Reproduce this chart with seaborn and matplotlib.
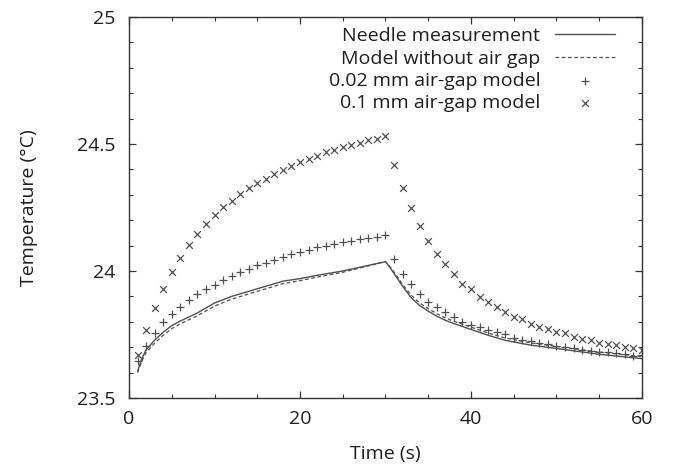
import numpy as np
import seaborn as sns
import matplotlib
matplotlib.use("Agg")
import matplotlib.pyplot as plt
from matplotlib.ticker import MultipleLocator, FuncFormatter

# line samples (s, degC)
t_line = [1.0, 1.5, 2, 3, 4, 5, 6, 8, 10, 12, 15, 18, 20, 22, 25, 28, 30,
          30.5, 31, 32, 33, 34, 35, 36, 37, 38, 40, 42, 44, 47, 50, 55, 60]
needle = [23.605, 23.655, 23.690, 23.728, 23.759, 23.785, 23.803, 23.835,
          23.874, 23.900, 23.930, 23.960, 23.970, 23.983, 24.000, 24.022,
          24.037, 24.015, 23.990, 23.940, 23.895, 23.864, 23.842, 23.822,
          23.806, 23.793, 23.770, 23.747, 23.727, 23.708, 23.695, 23.672,
          23.655]
no_gap = [23.600, 23.645, 23.680, 23.716, 23.747, 23.773, 23.792, 23.824,
          23.862, 23.889, 23.920, 23.950, 23.962, 23.976, 23.995, 24.020,
          24.037, 24.018, 23.996, 23.948, 23.905, 23.874, 23.852, 23.832,
          23.815, 23.802, 23.779, 23.756, 23.736, 23.717, 23.703, 23.681,
          23.663]

# model points, one per second
t_pts = list(range(1, 61))
gap_002 = [23.644, 23.705, 23.757, 23.798, 23.831, 23.860, 23.885, 23.908,
           23.928, 23.946, 23.964, 23.980, 23.995, 24.008, 24.022, 24.033,
           24.045, 24.055, 24.065, 24.075, 24.084, 24.093, 24.100, 24.106,
           24.114, 24.119, 24.125, 24.130, 24.135, 24.141,
           24.046, 23.988, 23.949, 23.909, 23.879, 23.857, 23.837, 23.818,
           23.798, 23.787, 23.778, 23.768, 23.759, 23.751, 23.735, 23.728,
           23.726, 23.715, 23.711, 23.706, 23.702, 23.698, 23.689, 23.686,
           23.682, 23.680, 23.676, 23.672, 23.667, 23.668]
gap_01 = [23.668, 23.769, 23.855, 23.929, 23.995, 24.051, 24.101, 24.146,
          24.185, 24.219, 24.251, 24.277, 24.303, 24.327, 24.346, 24.363,
          24.381, 24.398, 24.412, 24.428, 24.441, 24.454, 24.467, 24.478,
          24.488, 24.497, 24.505, 24.514, 24.521, 24.531,
          24.419, 24.328, 24.248, 24.178, 24.119, 24.067, 24.027, 23.987,
          23.949, 23.928, 23.899, 23.878, 23.858, 23.839, 23.820, 23.810,
          23.791, 23.781, 23.770, 23.760, 23.755, 23.741, 23.732, 23.730,
          23.718, 23.711, 23.709, 23.700, 23.698, 23.690]

sns.set_theme(style="ticks")
plt.rcParams["font.family"] = ["Open Sans", "DejaVu Sans"]

fig = plt.figure(figsize=(6.73, 4.70), dpi=100)
ax = fig.add_axes([0.1917, 0.1532, 0.7622, 0.8106])

grey = "#505050"
txt = "#1e1e1e"
fs = 14

sns.lineplot(x=t_line, y=needle, ax=ax, color=grey, lw=1.0,
             label="Needle measurement")
sns.lineplot(x=t_line, y=no_gap, ax=ax, color=grey, lw=0.9,
             linestyle=(0, (3, 2)), label="Model without air gap")
sns.scatterplot(x=t_pts, y=gap_002, ax=ax, marker="+", s=32, color=grey,
                linewidth=0.9, label="0.02 mm air-gap model")
sns.scatterplot(x=t_pts, y=gap_01, ax=ax, marker="x", s=24, color=grey,
                linewidth=0.9, label="0.1 mm air-gap model")

ax.set_xlim(0, 60)
ax.set_ylim(23.5, 25)
ax.xaxis.set_major_locator(MultipleLocator(20))
ax.xaxis.set_minor_locator(MultipleLocator(5))
ax.yaxis.set_major_locator(MultipleLocator(0.5))
ax.yaxis.set_minor_locator(MultipleLocator(0.1))
ax.yaxis.set_major_formatter(FuncFormatter(lambda v, p: f"{v:g}"))

ax.tick_params(which="both", direction="in", top=True, right=True,
               color="#333333", labelsize=fs, labelcolor=txt)
ax.tick_params(axis="y", pad=10)
ax.tick_params(axis="x", pad=9)
ax.tick_params(which="major", length=5, width=0.9)
ax.tick_params(which="minor", length=3, width=0.8)
for sp in ax.spines.values():
    sp.set_color("#333333")
    sp.set_linewidth(1.0)

ax.set_xlabel("Time (s)", fontsize=fs, color=txt, labelpad=12)
ax.set_ylabel("Temperature (°C)", fontsize=fs, color=txt, labelpad=28)

leg = ax.legend(loc="upper right", markerfirst=False, frameon=False,
                fontsize=fs, handlelength=3.1, labelspacing=0.22,
                borderaxespad=0.4, handletextpad=0.75,
                bbox_to_anchor=(0.978, 1.014))
for t in leg.get_texts():
    t.set_color(txt)

fig.savefig("out.png", dpi=100)
